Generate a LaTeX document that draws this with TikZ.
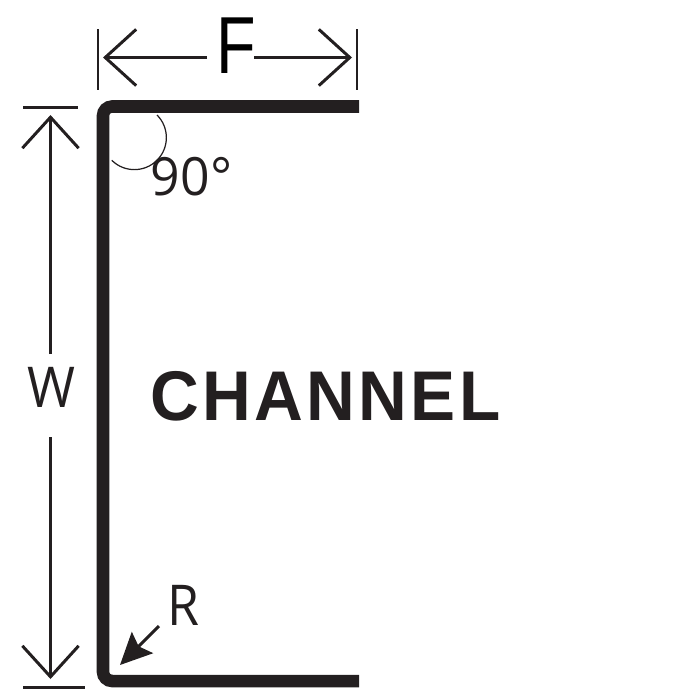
\documentclass[tikz,border=0pt]{standalone}
\usepackage{fontspec}
\usepackage{graphicx}
\usetikzlibrary{arrows.meta}
\setmainfont{Open Sans}
\newfontfamily\headfont[LetterSpace=5]{Liberation Sans}
\newfontfamily\flangefont{Liberation Sans}
\definecolor{inkblack}{HTML}{231F20}

\tikzset{
    channelline/.style={line width=3.56pt, color=inkblack, rounded corners=2.6pt},
    dimline/.style={line width=0.85pt, color=inkblack},
    dimarrow/.style={dimline, -{Straight Barb[length=8.8pt, width=16pt, line width=0.85pt]}},
    dimlabel/.style={inner sep=0pt, color=inkblack}
}

\begin{document}
\begin{tikzpicture}[x=0.01cm, y=-0.01cm]

    % Fix the page size
    \useasboundingbox (0,0) rectangle (700,700);

    % Draw the channel section
    \draw[channelline] (359,106.5) -- (103,106.5) -- (103,681) -- (359,681);

    % Define the ends of the dimension lines
    \coordinate (FL) at (103,57.5);
    \coordinate (FR) at (352,57.5);
    \coordinate (WT) at (50.5,115);
    \coordinate (WB) at (50.5,679);
    \coordinate (FLgap) at (207,57.5);
    \coordinate (FRgap) at (254,57.5);
    \coordinate (WTgap) at (50.5,354);
    \coordinate (WBgap) at (50.5,437);

    % Add the labels
    \node[dimlabel, text=black, font=\flangefont\fontsize{23}{23}\selectfont] (F) at (236,46) {\scalebox{0.8}[1]{F}};
    \node[dimlabel, font=\fontsize{16}{16}\selectfont] (W) at (51,387) {\scalebox{0.92}[1]{W}};
    \node[dimlabel, font=\fontsize{16}{16}\selectfont] (R) at (183,605) {\scalebox{0.92}[1]{R}};
    \node[dimlabel, font=\fontsize{15}{15}\selectfont] (angle) at (191.5,177) {\scalebox{0.98}[1]{90°}};
    \node[dimlabel, font=\headfont\bfseries\fontsize{20}{20}\selectfont] (title) at (325.5,396) {\scalebox{0.96}[1]{CHANNEL}};

    % Draw the extension lines
    \draw[dimline] (98,29) -- (98,90);
    \draw[dimline] (357,29) -- (357,90);
    \draw[dimline] (23,107.5) -- (78,107.5);
    \draw[dimline] (23,687) -- (85,687);

    % Draw the dimension arrows
    \draw[dimarrow] (FLgap) -- (FL);
    \draw[dimarrow] (FRgap) -- (FR);
    \draw[dimarrow] (WTgap) -- (WT);
    \draw[dimarrow] (WBgap) -- (WB);

    % Draw the radius arrow
    \coordinate (Rtail) at (159,626);
    \coordinate (Rtip) at (120,665);
    \draw[dimline, -{Stealth[length=9pt, width=8.5pt, inset=1.5pt]}] (Rtail) -- (Rtip);

    % Draw the right-angle arc
    \draw[color=inkblack, line width=0.35pt] (157,115) arc[start angle=-45, end angle=135, radius=32];

\end{tikzpicture}
\end{document}
